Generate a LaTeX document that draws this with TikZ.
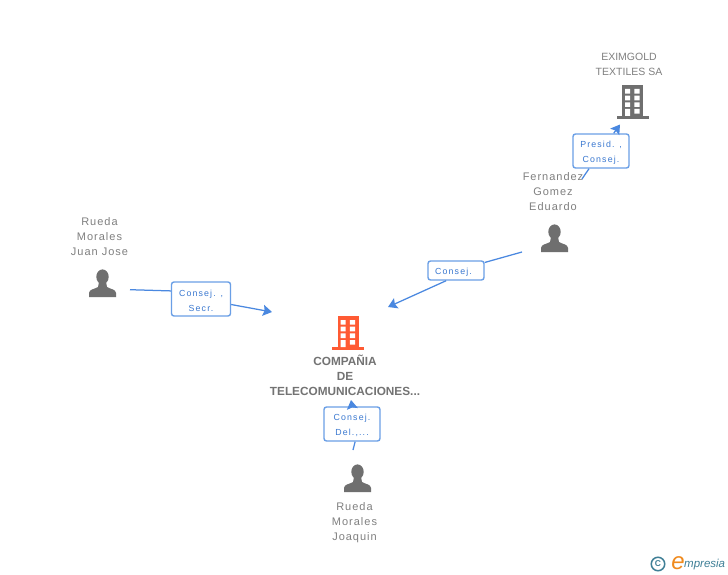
\documentclass[tikz,border=0pt]{standalone}
\usepackage{fontspec}
\setmainfont{Liberation Sans}
\newfontfamily\spacedfont[LetterSpace=9]{Liberation Sans}
\newfontfamily\labelfont[LetterSpace=13]{Liberation Sans}
\usetikzlibrary{arrows.meta,backgrounds}
\definecolor{edgeblue}{HTML}{4A88E0}
\definecolor{boxblue}{HTML}{6A9FE6}
\definecolor{labelblue}{HTML}{3A78D0}
\definecolor{namegrey}{HTML}{808080}
\definecolor{icongrey}{HTML}{6F6F6F}
\definecolor{mainorange}{HTML}{FF5A33}
\definecolor{logoteal}{HTML}{3F7F96}
\definecolor{logoorange}{HTML}{F08A1D}
\newcommand{\labelstrut}{\rule{0pt}{10pt}}
\tikzset{
  edge/.style={draw=edgeblue,line width=1.25pt},
  arrowedge/.style={edge,-{Stealth[length=9pt,width=11pt,inset=1.5pt]}},
  relbox/.style={draw=boxblue,line width=1.4pt,rounded corners=2.5pt,fill=white,
    align=center,text=labelblue,inner sep=0pt,
    font=\labelfont\fontsize{8.8}{15}\selectfont},
  personname/.style={align=center,text=namegrey,inner sep=0pt,
    font=\spacedfont\fontsize{11}{15}\selectfont},
  companyname/.style={align=center,text=namegrey,inner sep=0pt,
    font=\fontsize{10.5}{15}\selectfont},
  mainname/.style={align=center,text=namegrey!90!black,inner sep=0pt,
    font=\bfseries\fontsize{11.8}{15}\selectfont},
  person/.pic={
    \fill[icongrey] (0,6.8) ellipse[x radius=6.2,y radius=7.4];
    \fill[icongrey] (-13.5,27) -- (-13.5,23) .. controls (-13.5,19) and (-7,19) .. (-4.5,17)
      -- (-3.5,12) -- (3.5,12) -- (4.5,17) .. controls (7,19) and (13.5,19) .. (13.5,23)
      -- (13.5,27) -- cycle;
  },
  building/.pic={
    \fill[pic actions] (-10.5,0) rectangle (10.5,31);
    \fill[pic actions] (-16,31) rectangle (16,34);
    \fill[white] (-7.5,4) rectangle (-2.5,8.6) (1.8,4) rectangle (7,8.6)
      (-7.5,10.7) rectangle (-2.5,15.3) (1.8,10.7) rectangle (7,15.3)
      (-7.5,17.4) rectangle (-2.5,22) (1.8,17.4) rectangle (7,22)
      (-7.5,24) rectangle (-2.5,31) (1.8,24) rectangle (7,28.6);
  },
}
\begin{document}
\begin{tikzpicture}[x=1pt,y=-1pt]
\useasboundingbox[fill=white] (0,0) rectangle (728,575);

% icons
\pic[fill=mainorange] (mainicon) at (348,316) {building};
\pic[fill=icongrey] (eximicon) at (632.5,85) {building};
\pic (juanicon) at (102.5,270) {person};
\pic (fernicon) at (554.5,225) {person};
\pic (joaqicon) at (357.5,465) {person};

% names
\node[mainname] (main) at (345,375.3) {COMPAÑIA\\DE\\TELECOMUNICACIONES...};
\node[companyname] (exim) at (629,64.5) {EXIMGOLD\\TEXTILES SA};
\node[personname] (juan) at (99.5,237) {Rueda\\Morales\\Juan Jose};
\node[personname] (fern) at (553,192) {Fernandez\\Gomez\\Eduardo};
\node[personname] (joaq) at (354.5,522.3) {Rueda\\Morales\\Joaquin};

% relation boxes
\node[relbox,minimum width=59pt,minimum height=34pt] (rjuan) at (201,299) {\labelstrut Consej. ,\\Secr.};
\node[relbox,minimum width=56pt,minimum height=19pt] (rfern) at (456,270.5) {\labelstrut Consej.\hspace{5pt}};
\node[relbox,minimum width=56pt,minimum height=34pt] (rexim) at (601,151) {\labelstrut Presid. ,\\Consej.};
\node[relbox,minimum width=56pt,minimum height=34pt] (rjoaq) at (352,424) {\labelstrut Consej.\hspace{3pt}\\Del.,...};

% free ends of the connectors
\coordinate (sjuan) at (130,289.7);
\coordinate (tjuan) at (272,312);
\coordinate (sfern) at (522,252);
\coordinate (tfern) at (388,307);
\coordinate (sexim) at (582,179);
\coordinate (texim) at (620,124.5);
\coordinate (sjoaq) at (353,450);
\coordinate (tjoaq) at (351,400);

% connectors
\draw[edge] (sjuan) -- (rjuan.165);
\draw[arrowedge] (rjuan) -- (tjuan);
\draw[edge] (sfern) -- (rfern);
\draw[arrowedge] (rfern.226) -- (tfern);
\draw[edge] (sexim) -- (rexim);
\draw[arrowedge] (rexim) -- (texim);
\draw[edge] (sjoaq) -- (rjoaq.-80);
\draw[arrowedge] (rjoaq.north) -- (tjoaq);

% logo
\node[draw=logoteal,line width=1.5pt,circle,minimum size=13.5pt,inner sep=0pt,text=logoteal,
  font=\bfseries\fontsize{8.5}{9}\selectfont] (copy) at (658,564) {C};
\node[text=logoorange,inner sep=0pt,font=\itshape\fontsize{24}{24}\selectfont] (logoe) at (678,563.5) {e};
\node[text=logoteal,inner sep=0pt,anchor=west,font=\itshape\fontsize{11.5}{13}\selectfont] (logotext) at (684,564.5) {mpresia};
\end{tikzpicture}
\end{document}
